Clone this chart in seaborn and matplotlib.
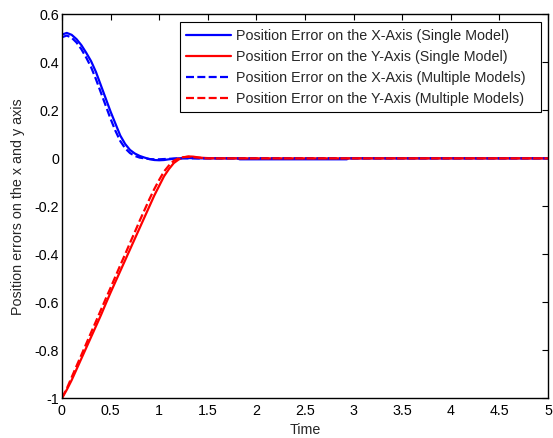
import pandas as pd
import numpy as np
import matplotlib
matplotlib.use("Agg")
import matplotlib.pyplot as plt
from matplotlib.ticker import FuncFormatter, MultipleLocator
import seaborn as sns

# time grid (s)
time = [0, 0.05, 0.1, 0.15, 0.2, 0.25, 0.3, 0.35, 0.4, 0.45, 0.5, 0.55, 0.6, 0.65, 0.7,
        0.75, 0.8, 0.85, 0.9, 0.95, 1.0, 1.05, 1.1, 1.15, 1.2, 1.25, 1.3, 1.35, 1.4, 1.45, 1.5,
        1.6, 1.8, 1.83, 2.93, 2.95, 3.5, 4, 4.5, 5]

x_single = [0.516, 0.523, 0.515, 0.497, 0.472, 0.44, 0.405, 0.36, 0.305, 0.25, 0.195, 0.145,
            0.095, 0.06, 0.035, 0.02, 0.01, 0.003, -0.003, -0.007, -0.008, -0.007, -0.004,
            -0.002, 0.0, 0.001, 0.001, 0.001, 0.0, 0.0, 0.0,
            0, 0, -0.004, -0.004, 0, 0, 0, 0, 0]
y_single = [-1, -0.965, -0.925, -0.88, -0.835, -0.79, -0.745, -0.70, -0.655, -0.607, -0.56,
            -0.515, -0.47, -0.425, -0.38, -0.335, -0.29, -0.245, -0.20, -0.155, -0.115, -0.075,
            -0.045, -0.02, -0.005, 0.004, 0.008, 0.007, 0.004, 0.002, 0.001,
            0, 0, 0, 0, 0, 0, 0, 0, 0]
x_multi = [0.505, 0.512, 0.503, 0.483, 0.455, 0.42, 0.38, 0.33, 0.275, 0.22, 0.165, 0.115,
           0.072, 0.042, 0.022, 0.01, 0.003, 0.0, -0.003, -0.004, -0.004, -0.003, -0.002,
           -0.001, 0, 0, 0, 0, 0, 0, 0,
           0, 0, 0, 0, 0, 0, 0, 0, 0]
y_multi = [-1, -0.96, -0.913, -0.866, -0.82, -0.773, -0.726, -0.68, -0.633, -0.586, -0.54,
           -0.493, -0.446, -0.4, -0.353, -0.307, -0.26, -0.215, -0.17, -0.128, -0.09, -0.055,
           -0.03, -0.01, 0.0, 0.005, 0.006, 0.005, 0.003, 0.001, 0.0,
           0, 0, 0, 0, 0, 0, 0, 0, 0]

labels = ["Position Error on the X-Axis (Single Model)",
          "Position Error on the Y-Axis (Single Model)",
          "Position Error on the X-Axis (Multiple Models)",
          "Position Error on the Y-Axis (Multiple Models)"]

df = pd.concat([
    pd.DataFrame({"Time": time, "err": x_single, "series": labels[0]}),
    pd.DataFrame({"Time": time, "err": y_single, "series": labels[1]}),
    pd.DataFrame({"Time": time, "err": x_multi, "series": labels[2]}),
    pd.DataFrame({"Time": time, "err": y_multi, "series": labels[3]}),
])

sns.set_style("white")
plt.rcParams['font.family'] = ['Liberation Sans', 'DejaVu Sans']
fs = 10.3

fig = plt.figure(figsize=(5.53, 4.38), dpi=100)
ax = fig.add_axes([0.112, 0.091, 0.879, 0.876])

palette = {labels[0]: "#0000ff", labels[1]: "#ff0000", labels[2]: "#0000ff", labels[3]: "#ff0000"}
dashes = {labels[0]: "", labels[1]: "", labels[2]: (3.6, 1.5), labels[3]: (3.6, 1.5)}
sns.lineplot(data=df, x="Time", y="err", hue="series", style="series", hue_order=labels,
             style_order=labels, palette=palette, dashes=dashes, linewidth=1.6,
             sort=False, estimator=None, ax=ax)

ax.set_xlim(0, 5)
ax.set_ylim(-1, 0.6)
ax.xaxis.set_major_locator(MultipleLocator(0.5))
ax.yaxis.set_major_locator(MultipleLocator(0.2))
fmt = FuncFormatter(lambda v, p: "%g" % round(v, 6))
ax.xaxis.set_major_formatter(fmt)
ax.yaxis.set_major_formatter(fmt)
ax.tick_params(direction="in", length=4, width=0.8, top=True, right=True,
               labelsize=fs, colors="black", pad=2)
ax.tick_params(axis="x", pad=4)
for s in ax.spines.values():
    s.set_color("black")
    s.set_linewidth(1.0)

ax.set_xlabel("Time", fontsize=fs, labelpad=4)
ax.set_ylabel("Position errors on the x and y axis", fontsize=fs, labelpad=7)

leg = ax.legend(loc="upper left", bbox_to_anchor=(0.2428, 0.0, 0.7428, 0.98), mode="expand",
                fontsize=fs, handlelength=3.1, frameon=True, fancybox=False,
                edgecolor="black", framealpha=1, borderaxespad=0.0,
                labelspacing=0.5, borderpad=0.45, handletextpad=0.35)
leg.get_frame().set_linewidth(0.8)

fig.savefig("out.png", dpi=100)
